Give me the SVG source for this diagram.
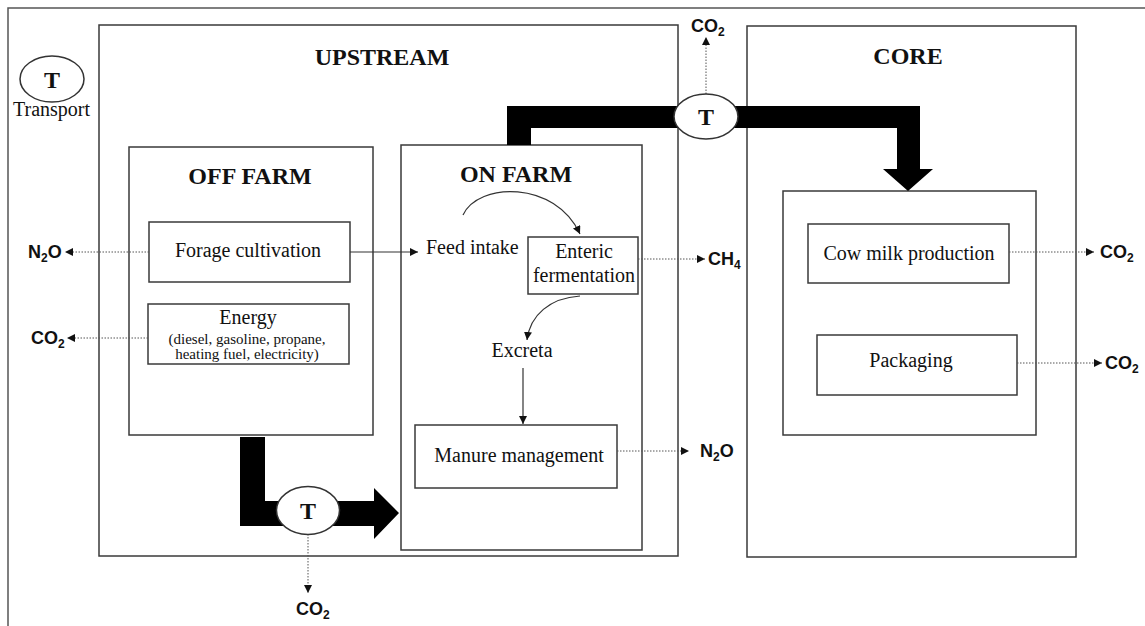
<svg xmlns="http://www.w3.org/2000/svg" width="1145" height="626" viewBox="0 0 1145 626">
  <style>
    .box { fill: none; stroke: #3a3a3a; stroke-width: 1.5; }
    .frame { fill: none; stroke: #555; stroke-width: 1.5; }
    .title { font-family: "Liberation Serif", "Times New Roman", serif; font-weight: bold; font-size: 24px; fill: #111; }
    .lbl { font-family: "Liberation Serif", "Times New Roman", serif; font-size: 20px; fill: #111; }
    .small { font-family: "Liberation Serif", "Times New Roman", serif; font-size: 15px; fill: #111; }
    .gas { font-family: "Liberation Sans", Arial, sans-serif; font-weight: bold; font-size: 18px; fill: #111; }
    .sub { font-size: 12px; }
    .dot { fill: none; stroke: #555; stroke-width: 1; stroke-dasharray: 1.5 1.5; }
    .solid { fill: none; stroke: #333; stroke-width: 1.2; }
    .flow { fill: #000; }
    .tnode { fill: #fff; stroke: #333; stroke-width: 1.5; }
    .tlbl { font-family: "Liberation Serif", "Times New Roman", serif; font-weight: bold; font-size: 24px; fill: #111; text-anchor: middle; }
  </style>
  <defs>
    <marker id="tip" viewBox="0 0 10 10" refX="10" refY="5" markerWidth="8" markerHeight="8" markerUnits="userSpaceOnUse" orient="auto">
      <path d="M0,0 L10,5 L0,10 Z" fill="#111"/>
    </marker>
  </defs>

  <!-- outer frame -->
  <rect class="frame" x="8" y="8" width="1160" height="640"/>

  <!-- legend -->
  <g id="legend">
    <ellipse cx="52" cy="79" rx="32" ry="23" fill="#fff" stroke="#333" stroke-width="1.5"/>
    <text class="tlbl" x="52" y="88">T</text>
    <text class="lbl" x="13" y="116">Transport</text>
  </g>

  <!-- stage containers -->
  <g id="upstream">
    <rect class="box" x="99" y="25" width="579" height="531"/>
    <text class="title" x="382" y="65" text-anchor="middle">UPSTREAM</text>
  </g>
  <g id="core">
    <rect class="box" x="747" y="26" width="329" height="531"/>
    <text class="title" x="908" y="64" text-anchor="middle">CORE</text>
  </g>
  <g id="off-farm">
    <rect class="box" x="129" y="147" width="244" height="288"/>
    <text class="title" x="250" y="184" text-anchor="middle">OFF FARM</text>
  </g>
  <g id="on-farm">
    <rect class="box" x="401" y="145" width="241" height="405"/>
    <text class="title" x="516" y="182" text-anchor="middle">ON FARM</text>
  </g>
  <g id="core-inner">
    <rect class="box" x="783" y="191" width="253" height="244"/>
  </g>

  <!-- process nodes -->
  <g id="forage">
    <rect class="box" x="149" y="222" width="201" height="60"/>
    <text class="lbl" x="248" y="257" text-anchor="middle">Forage cultivation</text>
  </g>
  <g id="energy">
    <rect class="box" x="148" y="304" width="201" height="60"/>
    <text class="lbl" x="248" y="324" text-anchor="middle">Energy</text>
    <text class="small" x="247" y="344" text-anchor="middle">(diesel, gasoline, propane,</text>
    <text class="small" x="247" y="359" text-anchor="middle">heating fuel, electricity)</text>
  </g>
  <g id="feed-intake">
    <text class="lbl" x="426" y="254">Feed intake</text>
  </g>
  <g id="enteric">
    <rect class="box" x="528" y="237" width="110" height="57"/>
    <text class="lbl" x="584" y="258" text-anchor="middle">Enteric</text>
    <text class="lbl" x="584" y="282" text-anchor="middle">fermentation</text>
  </g>
  <g id="excreta">
    <text class="lbl" x="522" y="357" text-anchor="middle">Excreta</text>
  </g>
  <g id="manure">
    <rect class="box" x="415" y="425" width="202" height="63"/>
    <text class="lbl" x="519" y="462" text-anchor="middle">Manure management</text>
  </g>
  <g id="milk">
    <rect class="box" x="808" y="224" width="201" height="59"/>
    <text class="lbl" x="909" y="260" text-anchor="middle">Cow milk production</text>
  </g>
  <g id="packaging">
    <rect class="box" x="817" y="335" width="200" height="60"/>
    <text class="lbl" x="911" y="367" text-anchor="middle">Packaging</text>
  </g>

  <!-- connectors -->
  <g id="connectors">
    <!-- bulk transport flows -->
    <path class="flow" d="M240,437 L265,437 L265,501 L374,501 L374,488 L399,513 L374,539 L374,526 L240,526 Z"/>
    <path class="flow" d="M507,145 L507,106 L920,106 L920,169 L933,169 L908,191 L883,169 L897,169 L897,128 L531,128 L531,145 Z"/>

    <!-- material flows -->
    <line class="solid" x1="350" y1="252" x2="418" y2="252" marker-end="url(#tip)"/>
    <path class="solid" d="M463,215 C478,182 555,180 580,234" marker-end="url(#tip)"/>
    <path class="solid" d="M580,296 C550,298 530,315 527,340" marker-end="url(#tip)"/>
    <line class="solid" x1="523" y1="368" x2="523" y2="424" marker-end="url(#tip)"/>

    <!-- emissions -->
    <line class="dot" x1="149" y1="252" x2="65" y2="252" marker-end="url(#tip)"/>
    <line class="dot" x1="148" y1="338" x2="67" y2="338" marker-end="url(#tip)"/>
    <line class="dot" x1="638" y1="259" x2="705" y2="259" marker-end="url(#tip)"/>
    <line class="dot" x1="617" y1="451" x2="689" y2="451" marker-end="url(#tip)"/>
    <line class="dot" x1="1009" y1="252" x2="1094" y2="252" marker-end="url(#tip)"/>
    <line class="dot" x1="1017" y1="363" x2="1102" y2="363" marker-end="url(#tip)"/>
    <line class="dot" x1="706" y1="94" x2="706" y2="37" marker-end="url(#tip)"/>
    <line class="dot" x1="308" y1="534" x2="308" y2="593" marker-end="url(#tip)"/>
  </g>

  <!-- transport nodes -->
  <g id="transport-core">
    <ellipse class="tnode" cx="706" cy="116.5" rx="32" ry="22.5"/>
    <text class="tlbl" x="706" y="125">T</text>
  </g>
  <g id="transport-farm">
    <ellipse class="tnode" cx="308" cy="510.5" rx="31.5" ry="24"/>
    <text class="tlbl" x="308" y="519">T</text>
  </g>

  <!-- emission labels -->
  <g id="gases">
    <text class="gas" x="28" y="258">N<tspan class="sub" dy="4">2</tspan><tspan dy="-4">O</tspan></text>
    <text class="gas" x="31" y="344">CO<tspan class="sub" dy="4">2</tspan></text>
    <text class="gas" x="708" y="265">CH<tspan class="sub" dy="4">4</tspan></text>
    <text class="gas" x="700" y="457">N<tspan class="sub" dy="4">2</tspan><tspan dy="-4">O</tspan></text>
    <text class="gas" x="1100" y="258">CO<tspan class="sub" dy="4">2</tspan></text>
    <text class="gas" x="1105" y="369">CO<tspan class="sub" dy="4">2</tspan></text>
    <text class="gas" x="691" y="32">CO<tspan class="sub" dy="4">2</tspan></text>
    <text class="gas" x="296" y="615">CO<tspan class="sub" dy="4">2</tspan></text>
  </g>
</svg>
